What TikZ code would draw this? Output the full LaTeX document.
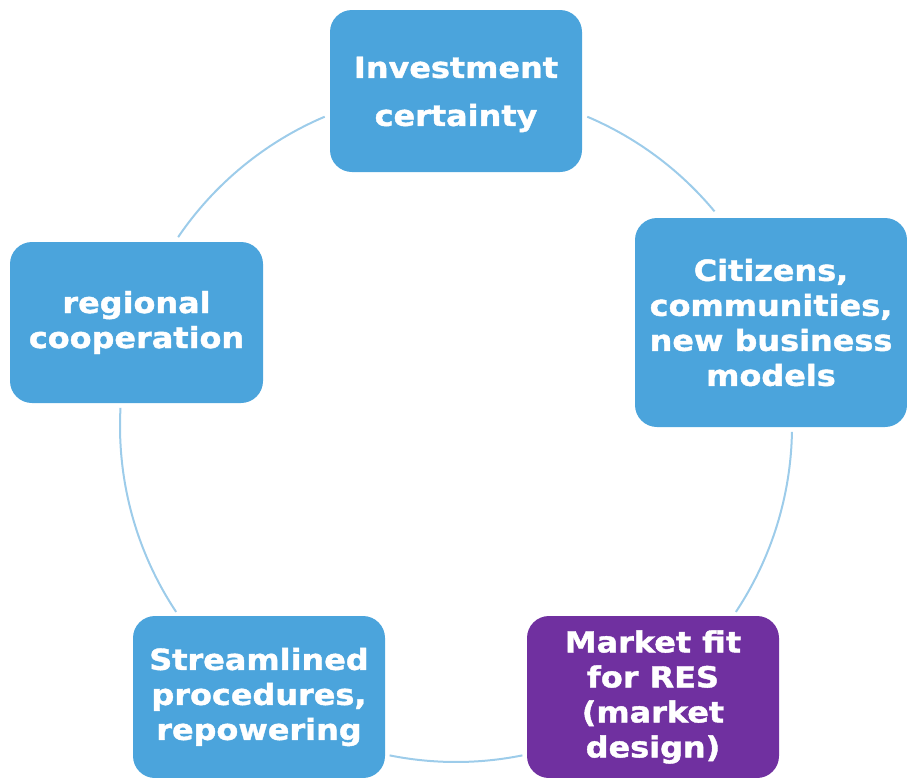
\documentclass[tikz,border=0pt]{standalone}
\usepackage{fontspec}
\setmainfont{DejaVu Sans}[BoldFeatures={FakeStretch=1.1,FakeBold=1.4}]
\usetikzlibrary{calc}
\definecolor{boxblue}{HTML}{4BA4DC}
\definecolor{boxpurple}{HTML}{7030A0}
\definecolor{arcblue}{HTML}{9DCCEA}
\begin{document}
\begin{tikzpicture}[x=1pt,y=-1pt,
  card/.style={draw=none,fill=boxblue,rounded corners=22pt,text=white,
    font=\fontsize{29}{35}\selectfont\bfseries,align=center,inner sep=0pt},
  cardtop/.style={card,font=\fontsize{29}{48}\selectfont\bfseries},
  cycle/.style={draw=arcblue,line width=2pt}]
\useasboundingbox (0,0) rectangle (907,777);
\node[cardtop,minimum width=252pt,minimum height=162pt] (inv) at (456,91) {\rule{0pt}{28pt}Investment\\certainty};
\node[card,minimum width=272pt,minimum height=209pt] (cit) at (771,322.5) {Citizens,\\communities,\\new business\\models};
\node[card,fill=boxpurple,minimum width=252pt,minimum height=162pt] (mkt) at (653,697) {Market fit\\for RES\\(market\\design)};
\node[card,minimum width=252pt,minimum height=162pt] (str) at (259,697) {Streamlined\\procedures,\\repowering};
\node[card,minimum width=253pt,minimum height=161pt] (reg) at (136.5,322.5) {regional\\cooperation};
\coordinate (ctr) at (456,426);
\coordinate (p1) at ($(ctr)+(-113:336)$);
\coordinate (p2) at ($(ctr)+(-67:336)$);
\coordinate (p3) at ($(ctr)+(1:336)$);
\coordinate (p4) at ($(ctr)+(78.6:336)$);
\coordinate (p5) at ($(ctr)+(146.4:336)$);
\draw[cycle] (p1) arc[start angle=-113,end angle=-145.8,radius=336];
\draw[cycle] (p2) arc[start angle=-67,end angle=-39.7,radius=336];
\draw[cycle] (p3) arc[start angle=1,end angle=33.6,radius=336];
\draw[cycle] (p4) arc[start angle=78.6,end angle=101.4,radius=336];
\draw[cycle] (p5) arc[start angle=146.4,end angle=183.1,radius=336];
\end{tikzpicture}
\end{document}
